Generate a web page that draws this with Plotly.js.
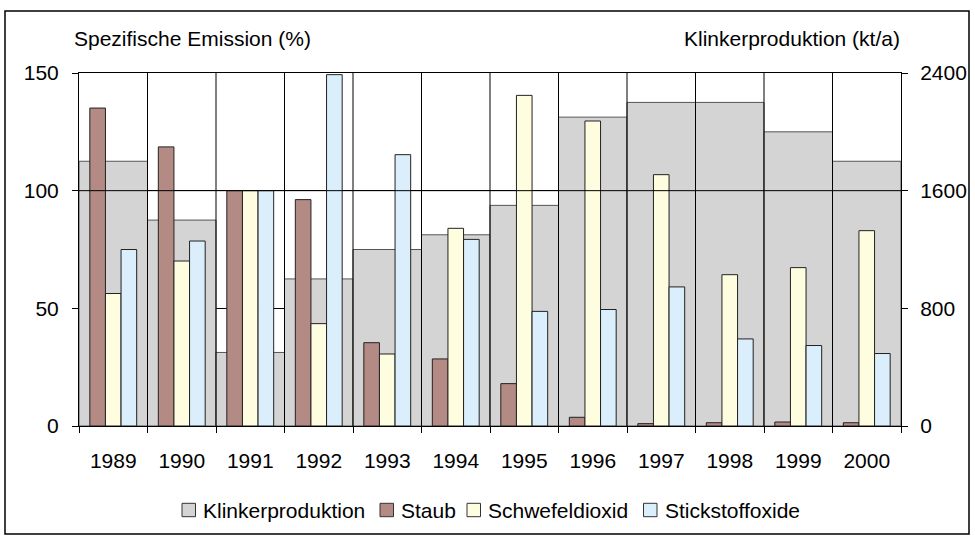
<!DOCTYPE html>
<html><head><meta charset="utf-8">
<script src="https://cdn.plot.ly/plotly-3.0.1.min.js"></script>
<style>html,body{margin:0;padding:0;background:#fff}#chart{width:975px;height:536px}</style>
</head><body><div id="chart"></div>
<script>
const years = ['1989','1990','1991','1992','1993','1994','1995','1996','1997','1998','1999','2000'];
const klinker = [1800,1400,500,1000,1200,1300,1500,2100,2200,2200,2000,1800];
const staub = [135.1,118.6,100,96.2,35.4,28.5,18.0,3.7,1.0,1.4,1.7,1.4];
const schwefel = [56.3,70.1,100,43.5,30.6,84.0,140.5,129.6,106.8,64.3,67.3,83.0];
const stick = [75.0,78.6,100,149.3,115.3,79.3,48.7,49.5,59.1,37.0,34.2,30.8];
const leftTicks = [0,50,100,150];
const rightTicks = [0,800,1600,2400];
const seriesNames = ['Klinkerproduktion','Staub','Schwefeldioxid','Stickstoffoxide'];
const refLevel = 100;

const font = {family:'"Liberation Sans", Arial, sans-serif', size:21, color:'#000'};
const barW = 0.228;
const colors = ['#d4d4d4','#b48a84','#fffde0','#dbeefb'];
const edge = ['#555','#222','#222','#222'];

const traces = [
  {type:'bar', name:seriesNames[0], x:years, y:klinker, yaxis:'y', width:1, offset:-0.5,
   marker:{color:colors[0], line:{color:edge[0], width:1}}},
  {type:'bar', name:seriesNames[1], x:years, y:staub, yaxis:'y2', width:barW, offset:-1.5*barW,
   marker:{color:colors[1], line:{color:edge[1], width:1}}},
  {type:'bar', name:seriesNames[2], x:years, y:schwefel, yaxis:'y2', width:barW, offset:-0.5*barW,
   marker:{color:colors[2], line:{color:edge[2], width:1}}},
  {type:'bar', name:seriesNames[3], x:years, y:stick, yaxis:'y2', width:barW, offset:0.5*barW,
   marker:{color:colors[3], line:{color:edge[3], width:1}}}
];

// plot-area geometry in pixels (for placing legend / frame in paper coordinates)
const M = {l:79, r:74, t:73, b:110};
const PW = 975 - M.l - M.r, PH = 536 - M.t - M.b;
const px = v => (v - M.l) / PW;
const py = v => (536 - M.b - v) / PH;

const shapes = [];
for (let i = 1; i < years.length; i++) {
  shapes.push({type:'line', xref:'x', yref:'paper', x0:i-0.5, x1:i-0.5, y0:0, y1:1,
               line:{color:'#000', width:1}, layer:'above'});
}
shapes.push({type:'line', xref:'paper', yref:'y2', x0:0, x1:1, y0:refLevel, y1:refLevel,
             line:{color:'#000', width:1}, layer:'above'});
shapes.push({type:'rect', xref:'paper', yref:'paper', x0:px(5), x1:px(969), y0:py(534), y1:py(11),
             line:{color:'#000', width:1.5}, fillcolor:'rgba(0,0,0,0)', layer:'above'});

// custom legend (box + label), laid out like the original
const legendBoxX = [182, 380, 467, 643.5];
const annotations = [
  {text:'Spezifische Emission (%)', xref:'paper', yref:'paper', x:px(72), y:py(38.5),
   xanchor:'left', yanchor:'middle', showarrow:false, font:font},
  {text:'Klinkerproduktion (kt/a)', xref:'paper', yref:'paper', x:px(902), y:py(38.5),
   xanchor:'right', yanchor:'middle', showarrow:false, font:font}
];
seriesNames.forEach((n, i) => {
  shapes.push({type:'rect', xref:'paper', yref:'paper', x0:px(legendBoxX[i]), x1:px(legendBoxX[i]+13.5),
               y0:py(516.7), y1:py(503.3), fillcolor:colors[i], line:{color:'#333', width:1}, layer:'above'});
  annotations.push({text:n, xref:'paper', yref:'paper', x:px(legendBoxX[i]+19), y:py(510),
                    xanchor:'left', yanchor:'middle', showarrow:false, font:font});
});

const layout = {
  width:975, height:536,
  margin:M,
  paper_bgcolor:'#fff', plot_bgcolor:'#fff',
  barmode:'overlay',
  font:font,
  showlegend:false,
  xaxis:{type:'category', range:[-0.5, years.length-0.5], tickson:'boundaries',
         ticks:'outside', ticklen:6, tickcolor:'#000', tickwidth:1,
         showline:true, linecolor:'#000', linewidth:1, mirror:true,
         showgrid:false, zeroline:false, tickfont:font, ticklabelstandoff:16},
  yaxis:{range:[0,2400], side:'right', tickmode:'array', tickvals:rightTicks,
         ticks:'outside', ticklen:6, tickcolor:'#000', showline:true, linecolor:'#000', linewidth:1,
         showgrid:true, gridcolor:'#000', gridwidth:1, zeroline:false, tickfont:font, ticklabelstandoff:8},
  yaxis2:{range:[0,150], side:'left', overlaying:'y', tickmode:'array', tickvals:leftTicks,
          ticks:'outside', ticklen:6, tickcolor:'#000', showline:true, linecolor:'#000', linewidth:1,
          showgrid:false, zeroline:false, tickfont:font, ticklabelstandoff:9},
  shapes:shapes,
  annotations:annotations
};

Plotly.newPlot('chart', traces, layout, {displayModeBar:false, staticPlot:true});
</script>
</body></html>
